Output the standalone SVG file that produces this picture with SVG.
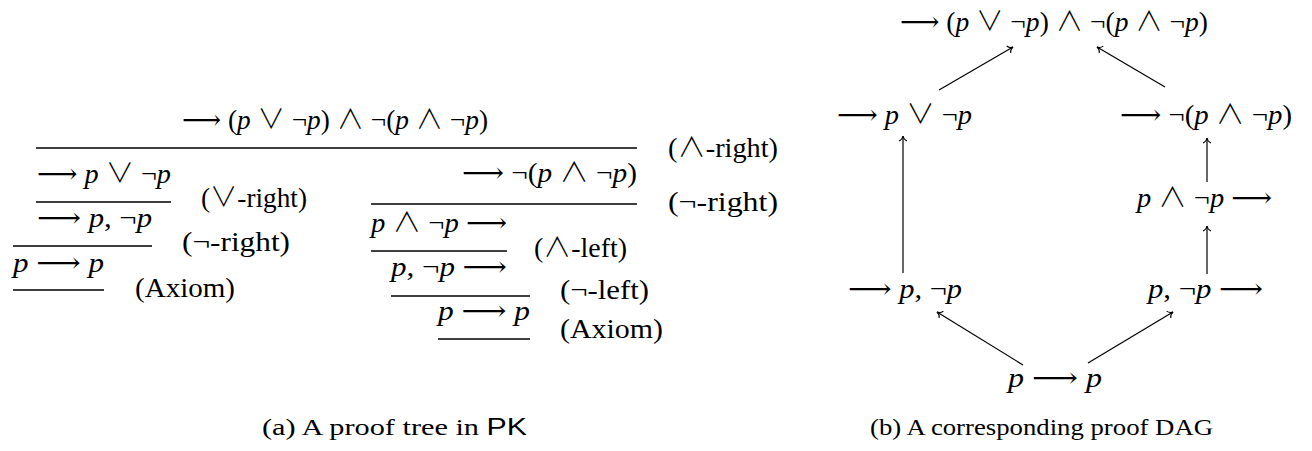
<svg xmlns="http://www.w3.org/2000/svg" width="1312" height="451" viewBox="0 0 1312 451">
<style>
text { font-family: "Liberation Serif", "DejaVu Serif", serif; font-size: 27px; fill: #000; }
.i { font-style: italic; }
.o { font-family: "Noto Sans CJK JP", "DejaVu Serif", sans-serif; font-weight: 300; }
.a { font-family: "DejaVu Sans", "DejaVu Serif", sans-serif; font-weight: 200; }
.cap { font-size: 24px; }
.sf { font-family: "Liberation Sans", "DejaVu Sans", sans-serif; }
.rule { stroke: #000; stroke-width: 1.3; }
.edge { stroke: #000; stroke-width: 1.2; fill: none; marker-end: url(#to); }
</style>
<defs>
<marker id="to" markerUnits="userSpaceOnUse" markerWidth="12" markerHeight="12" refX="0" refY="0" viewBox="-7 -6 8 12" orient="auto">
<path d="M-5,-4 C-4,-1.6 -1.6,-0.3 0,0 C-1.6,0.3 -4,1.6 -5,4" fill="none" stroke="#000" stroke-width="1.1"/>
</marker>
</defs>

<g id="proof-tree">
<g id="rules">
<line class="rule" x1="36" y1="148" x2="637" y2="148"/>
<line class="rule" x1="36" y1="202" x2="171" y2="202"/>
<line class="rule" x1="13" y1="246" x2="152" y2="246"/>
<line class="rule" x1="13" y1="290" x2="104" y2="290"/>
<line class="rule" x1="371" y1="204" x2="637" y2="204"/>
<line class="rule" x1="371" y1="251" x2="507" y2="251"/>
<line class="rule" x1="391" y1="296" x2="530" y2="296"/>
<line class="rule" x1="438" y1="339" x2="530" y2="339"/>
</g>
<g id="t-root"><text x="182" y="129" textLength="306" lengthAdjust="spacingAndGlyphs"><tspan class="a">⟶</tspan> (<tspan class="i">p</tspan> <tspan class="o">∨</tspan> ¬<tspan class="i">p</tspan>) <tspan class="o">∧</tspan> ¬(<tspan class="i">p</tspan> <tspan class="o">∧</tspan> ¬<tspan class="i">p</tspan>)</text></g>
<g id="t-or"><text x="37" y="183" textLength="134" lengthAdjust="spacingAndGlyphs"><tspan class="a">⟶</tspan> <tspan class="i">p</tspan> <tspan class="o">∨</tspan> ¬<tspan class="i">p</tspan></text></g>
<g id="t-pnp"><text x="37" y="227" textLength="115" lengthAdjust="spacingAndGlyphs"><tspan class="a">⟶</tspan> <tspan class="i">p</tspan>, ¬<tspan class="i">p</tspan></text></g>
<g id="t-ax1"><text x="13" y="272" textLength="91" lengthAdjust="spacingAndGlyphs"><tspan class="i">p</tspan> <tspan class="a">⟶</tspan> <tspan class="i">p</tspan></text></g>
<g id="t-neg"><text x="462" y="182" textLength="175" lengthAdjust="spacingAndGlyphs"><tspan class="a">⟶</tspan> ¬(<tspan class="i">p</tspan> <tspan class="o">∧</tspan> ¬<tspan class="i">p</tspan>)</text></g>
<g id="t-and"><text x="371" y="232" textLength="136" lengthAdjust="spacingAndGlyphs"><tspan class="i">p</tspan> <tspan class="o">∧</tspan> ¬<tspan class="i">p</tspan> <tspan class="a">⟶</tspan></text></g>
<g id="t-pnpl"><text x="391" y="276" textLength="116" lengthAdjust="spacingAndGlyphs"><tspan class="i">p</tspan>, ¬<tspan class="i">p</tspan> <tspan class="a">⟶</tspan></text></g>
<g id="t-ax2"><text x="438" y="320" textLength="92" lengthAdjust="spacingAndGlyphs"><tspan class="i">p</tspan> <tspan class="a">⟶</tspan> <tspan class="i">p</tspan></text></g>
<g id="labels">
<text x="668" y="157" textLength="110" lengthAdjust="spacingAndGlyphs">(<tspan class="o">∧</tspan>-right)</text>
<text x="201" y="207" textLength="106" lengthAdjust="spacingAndGlyphs">(<tspan class="o">∨</tspan>-right)</text>
<text x="182" y="251" textLength="108" lengthAdjust="spacingAndGlyphs">(¬-right)</text>
<text x="135" y="297" textLength="100" lengthAdjust="spacingAndGlyphs">(Axiom)</text>
<text x="668" y="211" textLength="110" lengthAdjust="spacingAndGlyphs">(¬-right)</text>
<text x="534" y="257" textLength="93" lengthAdjust="spacingAndGlyphs">(<tspan class="o">∧</tspan>-left)</text>
<text x="560" y="299" textLength="89" lengthAdjust="spacingAndGlyphs">(¬-left)</text>
<text x="560" y="338" textLength="103" lengthAdjust="spacingAndGlyphs">(Axiom)</text>
</g>
</g>

<g id="n1"><text x="900" y="31" textLength="308" lengthAdjust="spacingAndGlyphs"><tspan class="a">⟶</tspan> (<tspan class="i">p</tspan> <tspan class="o">∨</tspan> ¬<tspan class="i">p</tspan>) <tspan class="o">∧</tspan> ¬(<tspan class="i">p</tspan> <tspan class="o">∧</tspan> ¬<tspan class="i">p</tspan>)</text></g>
<g id="n2"><text x="837" y="124" textLength="135" lengthAdjust="spacingAndGlyphs"><tspan class="a">⟶</tspan> <tspan class="i">p</tspan> <tspan class="o">∨</tspan> ¬<tspan class="i">p</tspan></text></g>
<g id="n3"><text x="1120" y="124" textLength="172" lengthAdjust="spacingAndGlyphs"><tspan class="a">⟶</tspan> ¬(<tspan class="i">p</tspan> <tspan class="o">∧</tspan> ¬<tspan class="i">p</tspan>)</text></g>
<g id="n4"><text x="1137" y="207" textLength="135" lengthAdjust="spacingAndGlyphs"><tspan class="i">p</tspan> <tspan class="o">∧</tspan> ¬<tspan class="i">p</tspan> <tspan class="a">⟶</tspan></text></g>
<g id="n5"><text x="848" y="298" textLength="114" lengthAdjust="spacingAndGlyphs"><tspan class="a">⟶</tspan> <tspan class="i">p</tspan>, ¬<tspan class="i">p</tspan></text></g>
<g id="n6"><text x="1148" y="298" textLength="115" lengthAdjust="spacingAndGlyphs"><tspan class="i">p</tspan>, ¬<tspan class="i">p</tspan> <tspan class="a">⟶</tspan></text></g>
<g id="n7"><text x="1008" y="387" textLength="94" lengthAdjust="spacingAndGlyphs"><tspan class="i">p</tspan> <tspan class="a">⟶</tspan> <tspan class="i">p</tspan></text></g>

<g id="connectors">
<line class="edge" x1="939" y1="90" x2="1013" y2="47"/>
<line class="edge" x1="1165" y1="87" x2="1097" y2="47"/>
<line class="edge" x1="903" y1="273" x2="903" y2="136"/>
<line class="edge" x1="1207" y1="182" x2="1207" y2="138"/>
<line class="edge" x1="1207" y1="274" x2="1207" y2="226"/>
<line class="edge" x1="1023" y1="365" x2="937" y2="312"/>
<line class="edge" x1="1088" y1="363" x2="1173" y2="312"/>
</g>

<g id="captions">
<text class="cap" x="262" y="435" textLength="265" lengthAdjust="spacingAndGlyphs">(a) A proof tree in <tspan class="sf">PK</tspan></text>
<text class="cap" x="870" y="435" textLength="343" lengthAdjust="spacingAndGlyphs">(b) A corresponding proof DAG</text>
</g>
</svg>
